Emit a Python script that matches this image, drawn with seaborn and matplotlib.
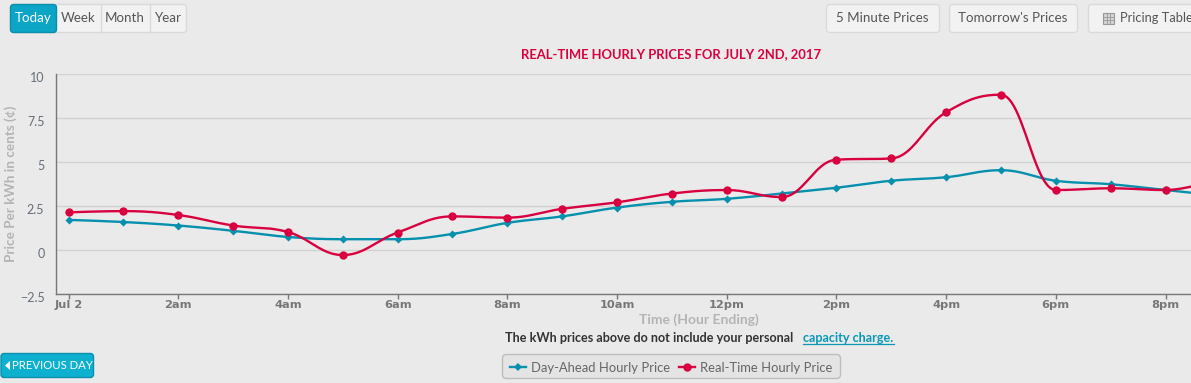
import matplotlib
matplotlib.use("Agg")
import matplotlib.pyplot as plt
from matplotlib.lines import Line2D
from matplotlib.patches import FancyBboxPatch, Polygon, Rectangle
from matplotlib.transforms import ScaledTranslation
import numpy as np
import pandas as pd
import seaborn as sns

hours = list(range(22))
day_ahead = [1.72, 1.6, 1.4, 1.1, 0.75, 0.62, 0.62, 0.92, 1.55, 1.92, 2.42, 2.75, 2.92, 3.22, 3.55, 3.95, 4.15, 4.55, 3.95, 3.75, 3.42, 3.1]
real_time = [2.15, 2.22, 2.0, 1.4, 1.03, -0.28, 1.0, 1.92, 1.85, 2.35, 2.72, 3.22, 3.42, 3.02, 5.15, 5.22, 7.85, 8.85, 3.42, 3.52, 3.42, 4.1]
tick_hours = [0, 2, 4, 6, 8, 10, 12, 14, 16, 18, 20]
tick_labels = ["Jul 2", "2am", "4am", "6am", "8am", "10am", "12pm", "2pm", "4pm", "6pm", "8pm"]
y_ticks = [-2.5, 0, 2.5, 5, 7.5, 10]
y_labels = ["\u22122.5", "0", "2.5", "5", "7.5", "10"]
W, H = 1191, 383
BG = "#EAEAEA"; TEAL = "#0590AE"; RED = "#D8003F"


def spline(xs, ys, n=24):
    """Highcharts-style spline through the data points, for drawing the smooth line."""
    xs = np.asarray(xs, float); ys = np.asarray(ys, float)
    m = len(xs); lc = np.zeros(m); rc = np.zeros(m); lx = np.zeros(m); rx = np.zeros(m)
    for i in range(1, m - 1):
        x, y = xs[i], ys[i]
        lx[i] = (1.5 * x + xs[i - 1]) / 2.5; lc[i] = (1.5 * y + ys[i - 1]) / 2.5
        rx[i] = (1.5 * x + xs[i + 1]) / 2.5; rc[i] = (1.5 * y + ys[i + 1]) / 2.5
        c = (rc[i] - lc[i]) * (rx[i] - x) / (rx[i] - lx[i]) + y - rc[i]
        lc[i] += c; rc[i] += c
        if lc[i] > ys[i - 1] and lc[i] > y:
            lc[i] = max(ys[i - 1], y); rc[i] = 2 * y - lc[i]
        elif lc[i] < ys[i - 1] and lc[i] < y:
            lc[i] = min(ys[i - 1], y); rc[i] = 2 * y - lc[i]
        if rc[i] > ys[i + 1] and rc[i] > y:
            rc[i] = max(ys[i + 1], y); lc[i] = 2 * y - rc[i]
        elif rc[i] < ys[i + 1] and rc[i] < y:
            rc[i] = min(ys[i + 1], y); lc[i] = 2 * y - rc[i]
    rx[0], rc[0] = xs[0], ys[0]; lx[-1], lc[-1] = xs[-1], ys[-1]
    ox, oy = [], []
    t = np.linspace(0, 1, n)[:, None]
    for i in range(m - 1):
        P = np.array([[xs[i], ys[i]], [rx[i], rc[i]], [lx[i + 1], lc[i + 1]], [xs[i + 1], ys[i + 1]]])
        B = (1 - t) ** 3 * P[0] + 3 * (1 - t) ** 2 * t * P[1] + 3 * (1 - t) * t ** 2 * P[2] + t ** 3 * P[3]
        ox.extend(B[:, 0]); oy.extend(B[:, 1])
    return ox, oy


plt.rcParams["font.family"] = ["Lato", "DejaVu Sans"]
fig = plt.figure(figsize=(W / 100, H / 100), dpi=100, facecolor=BG)
L, R, T, B = 55.5, 1191, 74.5, 294
ax = fig.add_axes([L / W, 1 - B / H, (R - L) / W, (B - T) / H], facecolor=BG)

for name, vals, col, lw in [("Day-Ahead Hourly Price", day_ahead, TEAL, 1.7),
                            ("Real-Time Hourly Price", real_time, RED, 1.7)]:
    sx, sy = spline(hours, vals)
    sns.lineplot(x=sx, y=sy, ax=ax, color=col, lw=lw, sort=False, errorbar=None, zorder=3)
sns.scatterplot(x=hours, y=day_ahead, ax=ax, color=TEAL, marker="D", s=17, linewidth=0, zorder=4)
sns.scatterplot(x=hours, y=real_time, ax=ax, color=RED, marker="o", s=36, linewidth=0, zorder=5)

ax.set_xlim((L - 68.5) / 54.85, (R - 68.5) / 54.85)
ax.set_ylim(-2.5, 10)
ax.set_xticks(tick_hours, tick_labels)
ax.set_yticks(y_ticks, y_labels)
ax.grid(axis="y", color="#D2D2D2", lw=1)
ax.set_axisbelow(True)
for s in ("top", "right"):
    ax.spines[s].set_visible(False)
for s in ("left", "bottom"):
    ax.spines[s].set_color("#777777"); ax.spines[s].set_linewidth(1)
ax.tick_params(axis="x", length=3.5, width=1, color="#777777", labelcolor="#777777", labelsize=8.2, pad=1)
ax.tick_params(axis="y", length=0, labelcolor="#666E78", labelsize=9, pad=8)
for lab in ax.get_xticklabels():
    lab.set_fontweight("bold")
    lab.set_family(["DejaVu Sans"])
for lab in ax.get_yticklabels():
    lab.set_transform(lab.get_transform() + ScaledTranslation(0, -2.5 / 100, fig.dpi_scale_trans))


def fx(px):
    return px / W


def fy(py):
    return 1 - py / H


fig.text(fx(671.5), fy(54.5), "REAL-TIME HOURLY PRICES FOR JULY 2ND, 2017", color=RED, fontsize=9.4,
         fontweight="bold", ha="center", va="center")
fig.text(fx(11), fy(184), "Price Per kWh in cents (\u00a2)", color="#B4B4B4", fontsize=9.7,
         fontweight="bold", rotation=90, ha="center", va="center")
fig.text(fx(699), fy(319.5), "Time (Hour Ending)", color="#B4B4B4", fontsize=10, fontweight="bold",
         ha="center", va="center")
fig.text(fx(505), fy(338), "The kWh prices above do not include your personal", color="#333333",
         fontsize=9.1, fontweight="bold", ha="left", va="center")
fig.text(fx(803), fy(338), "capacity charge.", color="#0A98B5", fontsize=9.1, fontweight="bold",
         ha="left", va="center")
fig.add_artist(Line2D([fx(803), fx(894)], [fy(344), fy(344)], color="#0A98B5", lw=0.9))


def box(x0, y0, x1, y1, fc, ec="#DADADA", r=3, z=1):
    fig.add_artist(FancyBboxPatch((x0, H - y1), x1 - x0, y1 - y0, boxstyle=f"round,pad=0,rounding_size={r}",
                                  transform=None, fc=fc, ec=ec, lw=1, zorder=z))


def btn(x, s, color="#555555", size=9.6):
    fig.text(fx(x), fy(18.5), s, color=color, fontsize=size, ha="center", va="center", zorder=5)


box(10.5, 4.5, 186.5, 32.5, "#F2F2F2")
box(10.5, 4.5, 56.5, 32.5, "#0CA5C6", ec="#0A8FAD")
for x in (100.5, 149.5):
    fig.add_artist(Line2D([fx(x), fx(x)], [fy(5), fy(32)], color="#DADADA", lw=1))
btn(33.5, "Today", "white"); btn(78.5, "Week"); btn(125, "Month"); btn(168, "Year")
box(826.5, 4.5, 939.5, 32.5, "#F2F2F2")
btn(882.5, "5 Minute Prices")
box(949.5, 4.5, 1077.5, 32.5, "#F2F2F2")
btn(1013, "Tomorrow's Prices")
box(1088.5, 4.5, 1230, 32.5, "#F2F2F2")
fig.text(fx(1120), fy(18.5), "Pricing Table", color="#555555", fontsize=9.3, ha="left", va="center", zorder=5)
# table icon on the pricing button
fig.add_artist(Rectangle((1103, H - 24), 11, 11, transform=None, fc="#D4D4D4", ec="#999999", lw=0.8, zorder=5))
for d in (3.7, 7.3):
    fig.add_artist(Line2D([fx(1103 + d)] * 2, [fy(13), fy(24)], color="#999999", lw=0.6, zorder=6))
    fig.add_artist(Line2D([fx(1103), fx(1114)], [fy(13 + d)] * 2, color="#999999", lw=0.6, zorder=6))

box(1, 353.5, 93.5, 377.5, "#0EB0CF", ec="#0A8FAD")
fig.add_artist(Polygon([(5, H - 365.5), (10, H - 361), (10, H - 370)], transform=None, fc="white", ec="none", zorder=5))
fig.text(fx(52.5), fy(365.5), "PREVIOUS DAY", color="white", fontsize=8.2, ha="center", va="center", zorder=5)

box(502.5, 354.5, 840.5, 378.5, "#E4E4E4", ec="#BDBDBD", r=4)
handles = [Line2D([], [], color=TEAL, lw=1.7, marker="D", ms=4.2, mew=0),
           Line2D([], [], color=RED, lw=1.7, marker="o", ms=6, mew=0)]
leg = fig.legend(handles, ["Day-Ahead Hourly Price", "Real-Time Hourly Price"], ncols=2, frameon=False,
                 loc="center", bbox_to_anchor=(fx(671.5), fy(368)), fontsize=9.4, labelcolor="#666666",
                 handlelength=1.22, handletextpad=0.38, columnspacing=0.7, borderpad=0, borderaxespad=0)
leg.set_zorder(5)
fig.savefig("out.png", dpi=100, facecolor=BG)
